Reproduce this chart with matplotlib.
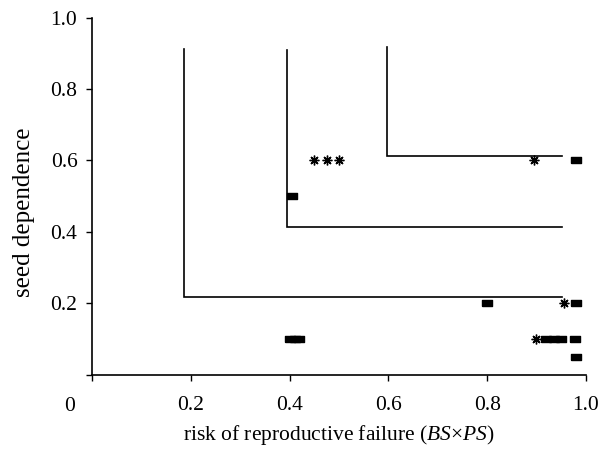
import matplotlib
matplotlib.use("Agg")
import matplotlib.pyplot as plt

plt.rcParams.update({
    "font.family": ["Liberation Serif", "DejaVu Serif"],
    "mathtext.fontset": "custom",
    "mathtext.it": "Liberation Serif:italic",
    "mathtext.rm": "Liberation Serif",
})

# boundary step lines: (corner x, corner y, top y, right end x)
step_x = [0.186, 0.395, 0.598]
step_y = [0.219, 0.415, 0.613]
step_top = [0.912, 0.909, 0.917]
step_end = [0.951, 0.951, 0.951]

# squares
sq_x = [0.98, 0.405, 0.80, 0.98, 0.40, 0.41, 0.42, 0.92, 0.935, 0.95, 0.978, 0.98]
sq_y = [0.60, 0.50, 0.20, 0.20, 0.10, 0.10, 0.10, 0.10, 0.10, 0.10, 0.10, 0.05]

# asterisks
st_x = [0.45, 0.475, 0.50, 0.895, 0.955, 0.898]
st_y = [0.60, 0.60, 0.60, 0.60, 0.20, 0.10]

xticks = [0.2, 0.4, 0.6, 0.8, 1.0]
yticks = [0.2, 0.4, 0.6, 0.8, 1.0]

fig = plt.figure(figsize=(6.04, 4.5), dpi=100)
ax = fig.add_axes([0.1523, 0.1667, 0.8179, 0.7944])

for cx, cy, top, end in zip(step_x, step_y, step_top, step_end):
    ax.plot([cx, cx, end], [top, cy, cy], color="black", lw=1.2,
            solid_joinstyle="miter")

rect = [(-1, -0.72), (1, -0.72), (1, 0.72), (-1, 0.72), (-1, -0.72)]
ax.plot(sq_x, sq_y, ls="none", marker=rect, ms=7, color="black",
        clip_on=False)
ax.plot(st_x, st_y, ls="none", marker=(8, 2, 0), ms=7, mew=1.0,
        color="black", clip_on=False)

ax.set_xlim(0, 1.0)
ax.set_ylim(0, 1.0)
ax.set_xticks([0] + xticks)
ax.set_xticklabels([""] + [f"{v:.1f}" for v in xticks])
ax.set_yticks([0] + yticks)
ax.set_yticklabels([""] + [f"{v:.1f}" for v in yticks])
ax.tick_params(direction="out", length=4, width=1.0, labelsize=15.5)
ax.tick_params(axis="x", pad=11)
ax.tick_params(axis="y", pad=6.5)
ax.text(-0.045, -0.062, "0", transform=ax.transAxes, ha="center",
        va="top", fontsize=15.5)
for sp in ("top", "right"):
    ax.spines[sp].set_visible(False)
for sp in ("left", "bottom"):
    ax.spines[sp].set_linewidth(1.2)

ax.set_xlabel(r"risk of reproductive failure ($BS$$\times$$PS$)",
              fontsize=15.5, labelpad=6)
ax.set_ylabel("seed dependence", fontsize=18, labelpad=11)
ax.yaxis.label.set_y(0.456)

fig.savefig("out.png", dpi=100)
